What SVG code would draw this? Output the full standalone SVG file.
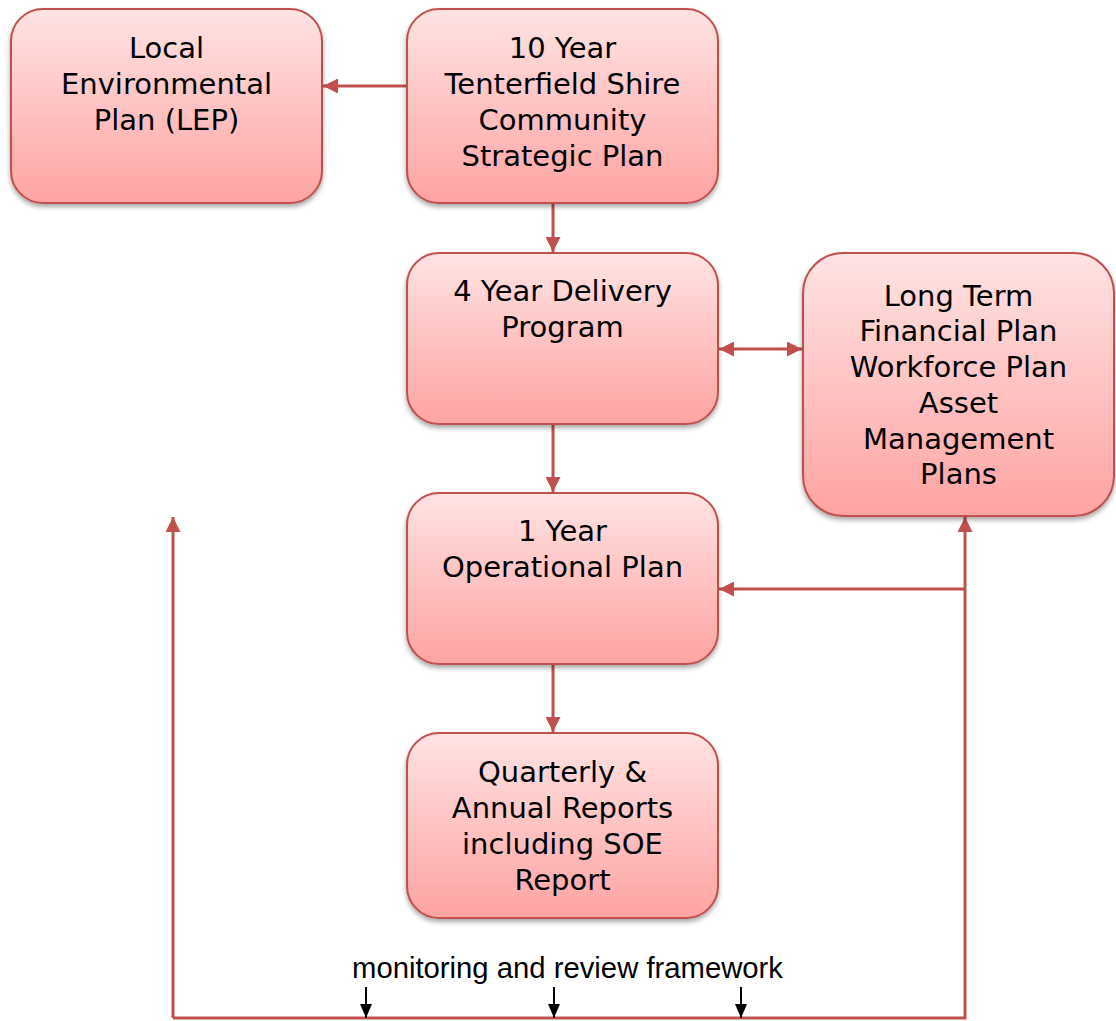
<svg xmlns="http://www.w3.org/2000/svg" width="1116" height="1021" viewBox="0 0 1116 1021">
<defs>
<linearGradient id="g" x1="0" y1="0" x2="0" y2="1">
<stop offset="0" stop-color="#ffe3e3"/>
<stop offset="1" stop-color="#ffa3a3"/>
</linearGradient>
<filter id="sh" x="-10%" y="-10%" width="120%" height="125%">
<feGaussianBlur in="SourceAlpha" stdDeviation="2.5"/>
<feOffset dx="0" dy="3" result="b"/>
<feComponentTransfer><feFuncA type="linear" slope="0.35"/></feComponentTransfer>
<feMerge><feMergeNode/><feMergeNode in="SourceGraphic"/></feMerge>
</filter>
<marker id="ar" viewBox="0 0 10 10" refX="10" refY="5" markerWidth="5" markerHeight="5" orient="auto-start-reverse" markerUnits="strokeWidth">
<path d="M0,0 L10,5 L0,10 z" fill="#c0504d"/>
</marker>
<marker id="ab" viewBox="0 0 14 12" refX="14" refY="6" markerWidth="7" markerHeight="6" orient="auto" markerUnits="strokeWidth">
<path d="M0,0 L14,6 L0,12 z" fill="#000"/>
</marker>
</defs>
<style>
.box{fill:url(#g);stroke:#c0504d;stroke-width:2;filter:url(#sh)}
.t{font-family:"DejaVu Sans",Verdana,sans-serif;font-size:29px;fill:#000;text-anchor:middle}
.c{fill:none;stroke:#c0504d;stroke-width:3}
.k{fill:none;stroke:#000;stroke-width:2}
</style>
<rect width="1116" height="1021" fill="#fff"/>
<g id="connectors">
<line class="c" x1="407" y1="86" x2="323" y2="86" marker-end="url(#ar)"/>
<line class="c" x1="553" y1="203" x2="553" y2="252" marker-end="url(#ar)"/>
<line class="c" x1="719" y1="349" x2="802" y2="349" marker-start="url(#ar)" marker-end="url(#ar)"/>
<line class="c" x1="553" y1="424" x2="553" y2="492" marker-end="url(#ar)"/>
<line class="c" x1="553" y1="664" x2="553" y2="732" marker-end="url(#ar)"/>
<polyline class="c" points="173,1018 965,1018 965,517" marker-end="url(#ar)"/>
<line class="c" x1="173" y1="1018" x2="173" y2="517" marker-end="url(#ar)"/>
<line class="c" x1="965" y1="589" x2="719" y2="589" marker-end="url(#ar)"/>
<line class="k" x1="366" y1="987" x2="366" y2="1018" marker-end="url(#ab)"/>
<line class="k" x1="554" y1="987" x2="554" y2="1018" marker-end="url(#ab)"/>
<line class="k" x1="741" y1="987" x2="741" y2="1018" marker-end="url(#ab)"/>
</g>
<g id="lep">
<rect class="box" x="11" y="9" width="311" height="194" rx="32"/>
<text class="t" x="166.5" y="58">Local</text>
<text class="t" x="166.5" y="94">Environmental</text>
<text class="t" x="166.5" y="130">Plan (LEP)</text>
</g>
<g id="csp">
<rect class="box" x="407" y="9" width="311" height="194" rx="32"/>
<text class="t" x="562.5" y="58">10 Year</text>
<text class="t" x="562.5" y="94">Tenterfield Shire</text>
<text class="t" x="562.5" y="130">Community</text>
<text class="t" x="562.5" y="166">Strategic Plan</text>
</g>
<g id="delivery">
<rect class="box" x="407" y="253" width="311" height="171" rx="32"/>
<text class="t" x="562.5" y="301">4 Year Delivery</text>
<text class="t" x="562.5" y="337">Program</text>
</g>
<g id="ltfp">
<rect class="box" x="803" y="253" width="311" height="263" rx="40"/>
<text class="t" x="958.5" y="306">Long Term</text>
<text class="t" x="958.5" y="341">Financial Plan</text>
<text class="t" x="958.5" y="377">Workforce Plan</text>
<text class="t" x="958.5" y="413">Asset</text>
<text class="t" x="958.5" y="449">Management</text>
<text class="t" x="958.5" y="484">Plans</text>
</g>
<g id="operational">
<rect class="box" x="407" y="493" width="311" height="171" rx="32"/>
<text class="t" x="562.5" y="541">1 Year</text>
<text class="t" x="562.5" y="577">Operational Plan</text>
</g>
<g id="reports">
<rect class="box" x="407" y="733" width="311" height="185" rx="32"/>
<text class="t" x="562.5" y="782">Quarterly &amp;</text>
<text class="t" x="562.5" y="818">Annual Reports</text>
<text class="t" x="562.5" y="854">including SOE</text>
<text class="t" x="562.5" y="890">Report</text>
</g>
<g id="label">
<text x="352" y="978" font-family="'Liberation Sans',Arial,sans-serif" font-size="29" textLength="431" lengthAdjust="spacingAndGlyphs" fill="#000">monitoring and review framework</text>
</g>
</svg>
